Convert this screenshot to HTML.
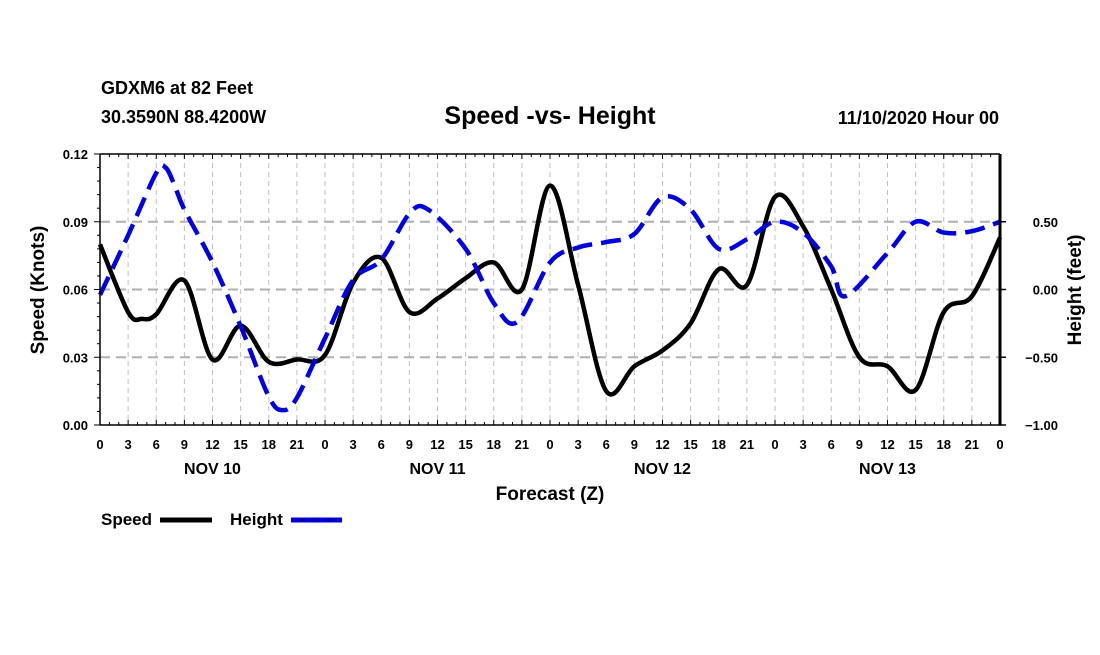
<!DOCTYPE html>
<html><head><meta charset="utf-8"><style>
body{margin:0;background:#fff;width:1100px;height:650px;overflow:hidden}
svg text{font-family:"Liberation Sans",sans-serif;font-weight:bold;fill:#000}
</style></head><body>
<svg id="chart" width="1100" height="650" xmlns="http://www.w3.org/2000/svg">
<text x="101" y="94" font-size="18">GDXM6 at 82 Feet</text>
<text x="101" y="123" font-size="18">30.3590N 88.4200W</text>
<text x="550" y="124" font-size="25" text-anchor="middle">Speed -vs- Height</text>
<text x="999" y="124" font-size="18" text-anchor="end">11/10/2020 Hour 00</text>
<g id="grid"></g>
<g id="series"></g>
<g id="axes"></g>
<text transform="translate(44,290) rotate(-90)" font-size="19" text-anchor="middle">Speed (Knots)</text>
<text transform="translate(1081,290) rotate(-90)" font-size="19" text-anchor="middle">Height (feet)</text>
<text x="550" y="500" font-size="19" text-anchor="middle">Forecast (Z)</text>
<g>
<text x="101" y="525" font-size="17">Speed</text>
<line x1="160" y1="520" x2="212" y2="520" stroke="#000" stroke-width="5"/>
</g>
<g>
<text x="230" y="525" font-size="17">Height</text>
<line x1="291" y1="520" x2="342" y2="520" stroke="#0000e0" stroke-width="5"/>
<line x1="297" y1="520" x2="339" y2="520" stroke="#000080" stroke-width="1.5" stroke-dasharray="8 6"/>
</g>
</svg>
<script>
const hoursSpeed=[0,3,4.5,6,9,12,15,18,21,24,27,30,33,36,39,42,45,48,51,54,57,60,63,66,69,72,75,78,81,84,87,90,93,96];
const speedVals=[0.080,0.050,0.047,0.049,0.064,0.029,0.044,0.028,0.029,0.031,0.063,0.074,0.050,0.056,0.065,0.072,0.060,0.106,0.062,0.015,0.026,0.033,0.045,0.069,0.062,0.101,0.088,0.060,0.030,0.026,0.0155,0.050,0.057,0.083];
const hoursHeight=[0,3,6,7,8,9,12,15,18,19.5,21,24,27,30,33,35,39,42,44.5,48,51,54,57,60,63,66,69,72,75,78,79.5,84,87,90,93,96];
const heightVals=[-0.04,0.40,0.86,0.90,0.76,0.59,0.20,-0.27,-0.79,-0.89,-0.80,-0.36,0.07,0.22,0.56,0.59,0.30,-0.10,-0.24,0.20,0.31,0.35,0.41,0.68,0.59,0.30,0.37,0.50,0.42,0.17,-0.05,0.27,0.50,0.42,0.43,0.50];
const xTickLabels=["0","3","6","9","12","15","18","21"];
const dayLabels=["NOV 10","NOV 11","NOV 12","NOV 13"];
const leftTicks=[0,0.03,0.06,0.09,0.12];
const rightTicks=[-1,-0.5,0,0.5];

const NS="http://www.w3.org/2000/svg";
const X0=100,X1=1000,Y0=425,Y1=154;
const xs=h=>X0+h/96*(X1-X0);
const ys=v=>Y0-v/0.12*(Y0-Y1);
const yh=v=>Y0-(v+1)/2*(Y0-Y1);
function el(tag,attrs,parent,txt){const e=document.createElementNS(NS,tag);for(const k in attrs)e.setAttribute(k,attrs[k]);if(txt!==undefined)e.textContent=txt;parent.appendChild(e);return e;}
const grid=document.getElementById('grid'),axes=document.getElementById('axes'),series=document.getElementById('series');
for(let h=3;h<96;h+=3){const g=el('line',{x1:xs(h),x2:xs(h),y1:Y1,y2:Y0,stroke:'#c0c0c0','stroke-width':1,'stroke-dasharray':'5 4'},grid);

}
leftTicks.forEach(v=>{if(v>0&&v<0.12){const g=el('line',{x1:X0,x2:X1,y1:ys(v),y2:ys(v),stroke:'#b0b0b0','stroke-width':2,'stroke-dasharray':'10 6'},grid);

}});
function path(hs,vs,fy){const P=hs.map((h,i)=>[xs(h),fy(vs[i])]);let d='M'+P[0][0]+','+P[0][1];
for(let i=0;i<P.length-1;i++){const p0=P[Math.max(0,i-1)],p1=P[i],p2=P[i+1],p3=P[Math.min(P.length-1,i+2)];
d+=' C'+(p1[0]+(p2[0]-p0[0])/6)+','+(p1[1]+(p2[1]-p0[1])/6)+' '+(p2[0]-(p3[0]-p1[0])/6)+','+(p2[1]-(p3[1]-p1[1])/6)+' '+p2[0]+','+p2[1];}return d;}
const sp=el('path',{d:path(hoursSpeed,speedVals,ys),fill:'none',stroke:'#000','stroke-width':4.5,'stroke-linejoin':'round'},series);


const hp=el('path',{d:path(hoursHeight,heightVals,yh),fill:'none',stroke:'#0000e0','stroke-width':4.5,'stroke-dasharray':'20 9'},series);


el('line',{x1:X0,x2:X1,y1:Y1,y2:Y1,stroke:'#000','stroke-width':1.5},axes);
el('line',{x1:X0,x2:X1,y1:Y0,y2:Y0,stroke:'#000','stroke-width':1.5},axes);
el('line',{x1:X0,x2:X0,y1:Y1,y2:Y0,stroke:'#000','stroke-width':1.5},axes);
el('line',{x1:X1,x2:X1,y1:Y1,y2:Y0,stroke:'#000','stroke-width':3},axes);
for(let h=0;h<=96;h+=1){const len=h%3==0?5:3;
el('line',{x1:xs(h),x2:xs(h),y1:Y1,y2:Y1+len,stroke:'#000','stroke-width':1},axes);
el('line',{x1:xs(h),x2:xs(h),y1:Y0,y2:Y0-len,stroke:'#000','stroke-width':1},axes);}
for(let h=0;h<=96;h+=3){const t=el('text',{x:xs(h),y:449,'font-size':13,'text-anchor':'middle'},axes,xTickLabels[(h/3)%8]);

}
dayLabels.forEach((d,i)=>{const t=el('text',{x:xs(12+24*i),y:474,'font-size':16,'text-anchor':'middle'},axes,d);

});
for(let k=0;k<=20;k++){const v=k*0.006;el('line',{x1:X0-(k%5==0?6:3),x2:X0,y1:ys(v),y2:ys(v),stroke:'#000','stroke-width':1},axes);}
leftTicks.forEach(v=>{const t=el('text',{x:88,y:ys(v)+5,'font-size':13,'text-anchor':'end'},axes,v.toFixed(2));

});
rightTicks.forEach(v=>{el('line',{x1:X1,x2:X1+6,y1:yh(v),y2:yh(v),stroke:'#000','stroke-width':1.5},axes);
const t=el('text',{x:1058,y:yh(v)+5,'font-size':13,'text-anchor':'end'},axes,(v<0?'\u2212':'')+Math.abs(v).toFixed(2));

});
</script>
</body></html>
